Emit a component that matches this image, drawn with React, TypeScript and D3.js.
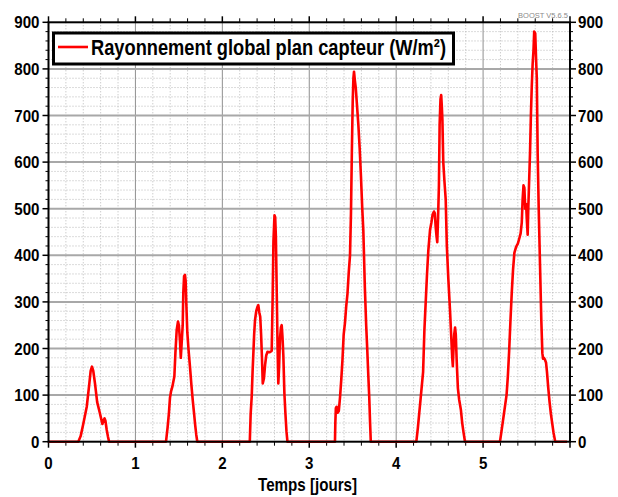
import * as d3 from "d3";

// Daily humps of the collector-plane irradiance.
// Each pair is [time in days, W/m²].
const day0: [number, number][] = [
  [0, 0], [0.343, 0], [0.37, 12], [0.4, 38], [0.44, 75], [0.47, 125], [0.485, 152],
  [0.5, 161], [0.515, 152], [0.535, 125], [0.56, 85], [0.59, 62], [0.605, 50],
  [0.62, 38], [0.63, 44], [0.645, 50], [0.655, 45], [0.67, 25], [0.685, 10], [0.697, 0],
];
const day1: [number, number][] = [
  [1.352, 0], [1.37, 30], [1.385, 60], [1.398, 95], [1.41, 108], [1.425, 118],
  [1.448, 140], [1.46, 190], [1.475, 240], [1.49, 258], [1.5, 250], [1.513, 215],
  [1.522, 180], [1.53, 205], [1.544, 250], [1.551, 320], [1.56, 355], [1.57, 358],
  [1.578, 345], [1.585, 300], [1.597, 235], [1.61, 200], [1.628, 160], [1.645, 120],
  [1.66, 88], [1.675, 60], [1.688, 35], [1.7, 15], [1.712, 0],
];
const day2: [number, number][] = [
  [2.316, 0], [2.326, 60], [2.338, 97], [2.348, 150], [2.357, 190], [2.366, 230],
  [2.376, 261], [2.39, 280], [2.405, 290], [2.414, 293], [2.425, 278], [2.436, 268],
  [2.446, 230], [2.456, 180], [2.465, 125], [2.478, 135], [2.492, 165], [2.505, 185],
  [2.52, 193], [2.545, 192], [2.568, 195], [2.578, 300], [2.588, 430], [2.6, 486],
  [2.608, 482], [2.616, 440], [2.626, 320], [2.636, 200], [2.644, 125], [2.653, 160],
  [2.663, 220], [2.674, 245], [2.683, 250], [2.692, 225], [2.702, 185], [2.714, 104],
  [2.726, 60], [2.738, 22], [2.749, 0],
];
const day3: [number, number][] = [
  [3.296, 0], [3.3, 40], [3.306, 72], [3.315, 75], [3.326, 62], [3.34, 66],
  [3.354, 95], [3.368, 132], [3.382, 175], [3.396, 230], [3.411, 255], [3.425, 290],
  [3.44, 318], [3.455, 365], [3.469, 400], [3.48, 490], [3.49, 620], [3.5, 730],
  [3.508, 780], [3.515, 794], [3.525, 775], [3.535, 760], [3.55, 720], [3.565, 680],
  [3.58, 630], [3.595, 569], [3.61, 500], [3.622, 454], [3.64, 330], [3.655, 250],
  [3.668, 195], [3.68, 140], [3.69, 97], [3.7, 40], [3.708, 0],
];
const day4: [number, number][] = [
  [4.232, 0], [4.25, 30], [4.265, 60], [4.28, 90], [4.295, 120], [4.31, 150],
  [4.325, 240], [4.34, 300], [4.355, 360], [4.37, 410], [4.39, 455], [4.405, 470],
  [4.42, 488], [4.435, 494], [4.445, 490], [4.455, 460], [4.465, 440], [4.473, 428],
  [4.482, 480], [4.492, 550], [4.5, 680], [4.51, 735], [4.518, 744], [4.525, 720],
  [4.532, 690], [4.542, 600], [4.555, 560], [4.57, 520], [4.583, 420], [4.6, 350],
  [4.62, 280], [4.635, 220], [4.645, 180], [4.652, 162], [4.66, 200], [4.668, 230],
  [4.678, 245], [4.686, 230], [4.696, 175], [4.71, 115], [4.725, 90], [4.745, 68],
  [4.76, 40], [4.775, 20], [4.792, 0],
];
const day5: [number, number][] = [
  [5.194, 0], [5.21, 20], [5.225, 40], [5.24, 60], [5.255, 80], [5.27, 100],
  [5.285, 140], [5.3, 195], [5.315, 260], [5.33, 320], [5.345, 370], [5.36, 405],
  [5.38, 418], [5.4, 425], [5.415, 435], [5.432, 447], [5.445, 470], [5.455, 520],
  [5.465, 550], [5.475, 545], [5.485, 500], [5.495, 510], [5.505, 470], [5.513, 444],
  [5.52, 500], [5.53, 560], [5.54, 619], [5.55, 700], [5.56, 762], [5.57, 810],
  [5.58, 840], [5.588, 880], [5.6, 876], [5.61, 820], [5.618, 780], [5.628, 619],
  [5.64, 500], [5.655, 380], [5.67, 260], [5.682, 190], [5.69, 178], [5.7, 180],
  [5.712, 176], [5.724, 170], [5.735, 150], [5.75, 115], [5.765, 85], [5.78, 60],
  [5.795, 40], [5.81, 20], [5.83, 0], [5.965, 0],
];

const xMajor = [0, 1, 2, 3, 4, 5, 6];
const yMajor = [0, 100, 200, 300, 400, 500, 600, 700, 800, 900];
const xLabels = [0, 1, 2, 3, 4, 5];
const legendLabel = "Rayonnement global plan capteur (W/m²)";
const xTitle = "Temps [jours]";
const stamp = "BOOST V5.6.5";

const W = 618;
const H = 497;
const M = { left: 48.5, right: 570, top: 22.3, bottom: 441.7 };
// no narrow font installed: squeeze Liberation Sans bold with textLength
const FONT = "'Liberation Sans', Arial, sans-serif";
const DIGIT_W = 8.4;

export default function App() {
  const x = d3.scaleLinear().domain([0, 6]).range([M.left, M.right]);
  const y = d3.scaleLinear().domain([0, 900]).range([M.bottom, M.top]);

  const data = [...day0, ...day1, ...day2, ...day3, ...day4, ...day5];
  const line = d3
    .line<[number, number]>()
    .x((d) => x(d[0]))
    .y((d) => y(d[1]));

  // minor grid every 0.2 day / 20 W/m²
  const xMinor = d3.range(0, 30).map((i) => i * 0.2).filter((v) => Math.abs(v - Math.round(v)) > 1e-6);
  const yMinor = d3.range(0, 45).map((i) => i * 20).filter((v) => v % 100 !== 0);

  return (
    <svg
      width={W}
      height={H}
      style={{ position: "absolute", left: 0, top: 0, background: "#fff" }}
    >
      {/* dotted minor grid */}
      <g stroke="#b8b8b8" strokeWidth={1} strokeDasharray="1,2">
        {xMinor.map((v) => (
          <line key={`xm${v}`} x1={x(v)} x2={x(v)} y1={M.top} y2={M.bottom} />
        ))}
        {yMinor.map((v) => (
          <line key={`ym${v}`} x1={M.left} x2={M.right} y1={y(v)} y2={y(v)} />
        ))}
      </g>
      {/* solid major grid */}
      <g>
        {xMajor.slice(1, -1).map((v) => (
          <line key={`xg${v}`} x1={x(v)} x2={x(v)} y1={M.top} y2={M.bottom} stroke="#8f8f8f" strokeWidth={1} />
        ))}
        {yMajor.slice(1, -1).map((v) => (
          <line key={`yg${v}`} x1={M.left} x2={M.right} y1={y(v)} y2={y(v)} stroke="#a8a8a8" strokeWidth={2} />
        ))}
      </g>

      {/* ticks */}
      <g stroke="#000" strokeWidth={1}>
        {yMinor.map((v) => (
          <g key={`yt${v}`}>
            <line x1={M.left - 3} x2={M.left} y1={y(v)} y2={y(v)} />
            <line x1={M.right} x2={M.right + 3} y1={y(v)} y2={y(v)} />
          </g>
        ))}
        {yMajor.map((v) => (
          <g key={`yT${v}`}>
            <line x1={M.left - 6} x2={M.left} y1={y(v)} y2={y(v)} strokeWidth={1.5} />
            <line x1={M.right} x2={M.right + 6} y1={y(v)} y2={y(v)} strokeWidth={1.5} />
          </g>
        ))}
        {xMinor.map((v) => (
          <g key={`xt${v}`}>
            <line x1={x(v)} x2={x(v)} y1={M.top - 4} y2={M.top} />
            <line x1={x(v)} x2={x(v)} y1={M.bottom} y2={M.bottom + 4} />
          </g>
        ))}
        {xMajor.map((v) => (
          <g key={`xT${v}`}>
            <line x1={x(v)} x2={x(v)} y1={M.top - 6} y2={M.top} strokeWidth={1.5} />
            <line x1={x(v)} x2={x(v)} y1={M.bottom} y2={M.bottom + 6} strokeWidth={1.5} />
          </g>
        ))}
      </g>

      {/* series */}
      <path
        d={line(data) ?? ""}
        fill="none"
        stroke="#ff0000"
        strokeWidth={2.6}
        strokeLinejoin="round"
      />

      {/* frame */}
      <rect
        x={M.left}
        y={M.top}
        width={M.right - M.left}
        height={M.bottom - M.top}
        fill="none"
        stroke="#000"
        strokeWidth={2}
      />

      {/* tick labels */}
      <g fontFamily={FONT} fontWeight="bold" fontSize={17} fill="#000">
        {yMajor.map((v) => {
          const len = String(v).length * DIGIT_W;
          return (
            <g key={`yl${v}`}>
              <text x={M.left - 9 - len} y={y(v)} dy="0.36em" textLength={len} lengthAdjust="spacingAndGlyphs">{v}</text>
              <text x={M.right + 8} y={y(v)} dy="0.36em" textLength={len} lengthAdjust="spacingAndGlyphs">{v}</text>
            </g>
          );
        })}
        {xLabels.map((v) => (
          <text
            key={`xl${v}`}
            x={x(v) - DIGIT_W / 2}
            y={M.bottom + 27}
            textLength={DIGIT_W}
            lengthAdjust="spacingAndGlyphs"
          >
            {v}
          </text>
        ))}
        <text
          x={258}
          y={491}
          fontSize={19}
          textLength={99}
          lengthAdjust="spacingAndGlyphs"
        >
          {xTitle}
        </text>
      </g>

      <text
        x={M.right - 2}
        y={18}
        textAnchor="end"
        fontFamily={FONT}
        fontSize={7.5}
        fill="#8a8a8a"
      >
        {stamp}
      </text>

      {/* legend */}
      <g>
        <rect x={53.5} y={33} width={400} height={31} fill="#fff" stroke="#000" strokeWidth={3} />
        <line x1={58} x2={88} y1={47} y2={47} stroke="#ff0000" strokeWidth={2.6} />
        <text
          x={91}
          y={55}
          fontFamily={FONT}
          fontWeight="bold"
          fontSize={22}
          fill="#000"
          textLength={355}
          lengthAdjust="spacingAndGlyphs"
        >
          {legendLabel}
        </text>
      </g>
    </svg>
  );
}
